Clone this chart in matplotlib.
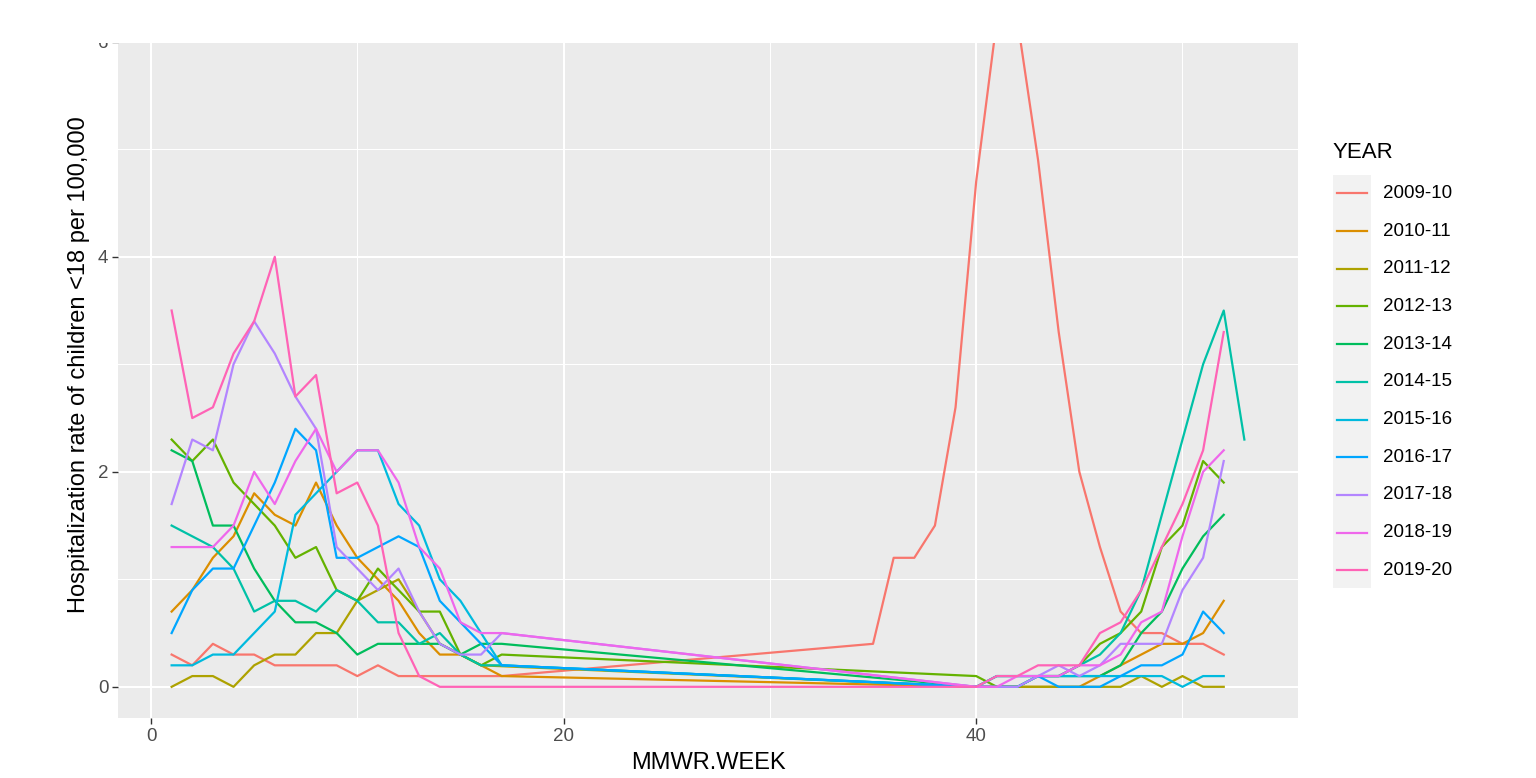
import matplotlib
matplotlib.use("Agg")
import matplotlib.pyplot as plt
from matplotlib.lines import Line2D
from matplotlib.patches import Rectangle

plt.rcParams['font.family'] = ['Liberation Sans', 'DejaVu Sans']

# weeks (MMWR) present for each season
spring_weeks = list(range(1, 18))
fall_weeks = list(range(40, 53))
weeks_0910_fall = list(range(35, 53))
weeks_1112_spring = list(range(1, 17))
weeks_1415_fall = list(range(40, 54))

# hospitalization rates per 100,000
r0910_spring = [0.3, 0.2, 0.4, 0.3, 0.3, 0.2, 0.2, 0.2, 0.2, 0.1, 0.2, 0.1, 0.1, 0.1, 0.1, 0.1, 0.1]
r0910_fall = [0.4, 1.2, 1.2, 1.5, 2.6, 4.7, 6.2, 6.2, 4.9, 3.3, 2.0, 1.3, 0.7, 0.5, 0.5, 0.4, 0.4, 0.3]
r1011_spring = [0.7, 0.9, 1.2, 1.4, 1.8, 1.6, 1.5, 1.9, 1.5, 1.2, 1.0, 0.8, 0.5, 0.3, 0.3, 0.2, 0.1]
r1011_fall = [0, 0, 0, 0, 0, 0, 0.1, 0.2, 0.3, 0.4, 0.4, 0.5, 0.8]
r1112_spring = [0, 0.1, 0.1, 0, 0.2, 0.3, 0.3, 0.5, 0.5, 0.8, 0.9, 1.0, 0.7, 0.4, 0.3, 0.2]
r1112_fall = [0, 0, 0, 0, 0, 0, 0, 0, 0.1, 0, 0.1, 0, 0]
r1213_spring = [2.3, 2.1, 2.3, 1.9, 1.7, 1.5, 1.2, 1.3, 0.9, 0.8, 1.1, 0.9, 0.7, 0.7, 0.3, 0.2, 0.3]
r1213_fall = [0.1, 0, 0, 0.1, 0.1, 0.2, 0.4, 0.5, 0.7, 1.3, 1.5, 2.1, 1.9]
r1314_spring = [2.2, 2.1, 1.5, 1.5, 1.1, 0.8, 0.6, 0.6, 0.5, 0.3, 0.4, 0.4, 0.4, 0.4, 0.3, 0.4, 0.4]
r1314_fall = [0, 0, 0, 0.1, 0.1, 0.1, 0.1, 0.2, 0.5, 0.7, 1.1, 1.4, 1.6]
r1415_spring = [1.5, 1.4, 1.3, 1.1, 0.7, 0.8, 0.8, 0.7, 0.9, 0.8, 0.6, 0.6, 0.4, 0.5, 0.3, 0.2, 0.2]
r1415_fall = [0, 0.1, 0.1, 0.1, 0.1, 0.2, 0.3, 0.5, 0.9, 1.6, 2.3, 3.0, 3.5, 2.3]
r1516_spring = [0.2, 0.2, 0.3, 0.3, 0.5, 0.7, 1.6, 1.8, 2.0, 2.2, 2.2, 1.7, 1.5, 1.0, 0.8, 0.5, 0.2]
r1516_fall = [0, 0.1, 0.1, 0.1, 0.1, 0.1, 0.1, 0.1, 0.1, 0.1, 0, 0.1, 0.1]
r1617_spring = [0.5, 0.9, 1.1, 1.1, 1.5, 1.9, 2.4, 2.2, 1.2, 1.2, 1.3, 1.4, 1.3, 0.8, 0.6, 0.4, 0.2]
r1617_fall = [0, 0, 0, 0.1, 0, 0, 0, 0.1, 0.2, 0.2, 0.3, 0.7, 0.5]
r1718_spring = [1.7, 2.3, 2.2, 3.0, 3.4, 3.1, 2.7, 2.4, 1.3, 1.1, 0.9, 1.1, 0.7, 0.4, 0.3, 0.3, 0.5]
r1718_fall = [0, 0, 0, 0.1, 0.2, 0.1, 0.2, 0.4, 0.4, 0.4, 0.9, 1.2, 2.1]
r1819_spring = [1.3, 1.3, 1.3, 1.5, 2.0, 1.7, 2.1, 2.4, 2.0, 2.2, 2.2, 1.9, 1.3, 1.1, 0.6, 0.5, 0.5]
r1819_fall = [0, 0, 0.1, 0.1, 0.1, 0.2, 0.2, 0.3, 0.6, 0.7, 1.4, 2.0, 2.2]
r1920_spring = [3.5, 2.5, 2.6, 3.1, 3.4, 4.0, 2.7, 2.9, 1.8, 1.9, 1.5, 0.5, 0.1, 0, 0, 0, 0]
r1920_fall = [0, 0.1, 0.1, 0.2, 0.2, 0.2, 0.5, 0.6, 0.9, 1.3, 1.7, 2.2, 3.3]

years = ['2009-10', '2010-11', '2011-12', '2012-13', '2013-14', '2014-15',
         '2015-16', '2016-17', '2017-18', '2018-19', '2019-20']
colors = ['#F8766D', '#DB8E00', '#AEA200', '#64B200', '#00BD5C', '#00C1A7',
          '#00BADE', '#00A6FF', '#B385FF', '#EF67EB', '#FF63B6']

season_weeks = [
    spring_weeks + weeks_0910_fall,
    spring_weeks + fall_weeks,
    weeks_1112_spring + fall_weeks,
    spring_weeks + fall_weeks,
    spring_weeks + fall_weeks,
    spring_weeks + weeks_1415_fall,
    spring_weeks + fall_weeks,
    spring_weeks + fall_weeks,
    spring_weeks + fall_weeks,
    spring_weeks + fall_weeks,
    spring_weeks + fall_weeks,
]
season_rates = [
    r0910_spring + r0910_fall,
    r1011_spring + r1011_fall,
    r1112_spring + r1112_fall,
    r1213_spring + r1213_fall,
    r1314_spring + r1314_fall,
    r1415_spring + r1415_fall,
    r1516_spring + r1516_fall,
    r1617_spring + r1617_fall,
    r1718_spring + r1718_fall,
    r1819_spring + r1819_fall,
    r1920_spring + r1920_fall,
]

W, H = 1536, 778
fig = plt.figure(figsize=(W / 100, H / 100), dpi=100)
ax = fig.add_axes([118 / W, 60 / H, 1180 / W, 730 / H])
ax.set_facecolor('#EBEBEB')

for wk, rt, col in zip(season_weeks, season_rates, colors):
    ax.plot(wk, rt, color=col, lw=1.6, solid_joinstyle='round', zorder=3)

ax.set_xlim(-1.6, 55.6)
ax.set_ylim(-0.29, 6.5)
ax.set_xticks([0, 20, 40])
ax.set_xticks([10, 30, 50], minor=True)
ax.set_yticks([0, 2, 4, 6])
ax.set_yticks([1, 3, 5], minor=True)
ax.grid(which='major', color='white', lw=1.5)
ax.grid(which='minor', color='white', lw=0.75)
ax.set_axisbelow(True)
for s in ax.spines.values():
    s.set_visible(False)
ax.tick_params(which='major', length=4, width=1.0, color='#333333',
               labelcolor='#4D4D4D', labelsize=13.5, pad=3)
ax.tick_params(which='minor', length=0)

ax.set_xlabel('MMWR.WEEK', fontsize=17, color='black')
ax.xaxis.set_label_coords(0.5, -0.046)
ax.set_ylabel('Hospitalization rate of children <18 per 100,000', fontsize=17, color='black')
ax.yaxis.set_label_coords(-0.0237, 0.4836)

# top of the original picture is cut just at y = 6
fig.add_artist(Rectangle((0, 1 - 42.5 / H), 1, 1, transform=fig.transFigure,
                         facecolor='white', edgecolor='none', zorder=10))

# legend
fig.text(1333 / W, 1 - 153 / H, 'YEAR', fontsize=16, va='center', ha='left')
fig.add_artist(Rectangle((1333 / W, 1 - 588 / H), 38 / W, 413 / H,
                         transform=fig.transFigure, facecolor='#F2F2F2',
                         edgecolor='none'))
for i, (yr, col) in enumerate(zip(years, colors)):
    yc = 1 - (193.3 + i * 37.7) / H
    fig.add_artist(Line2D([1337 / W, 1367 / W], [yc, yc], color=col, lw=1.6,
                          transform=fig.transFigure))
    fig.text(1383 / W, yc, yr, fontsize=13.5, va='center', ha='left', color='black')

fig.savefig('out.png', dpi=100)
